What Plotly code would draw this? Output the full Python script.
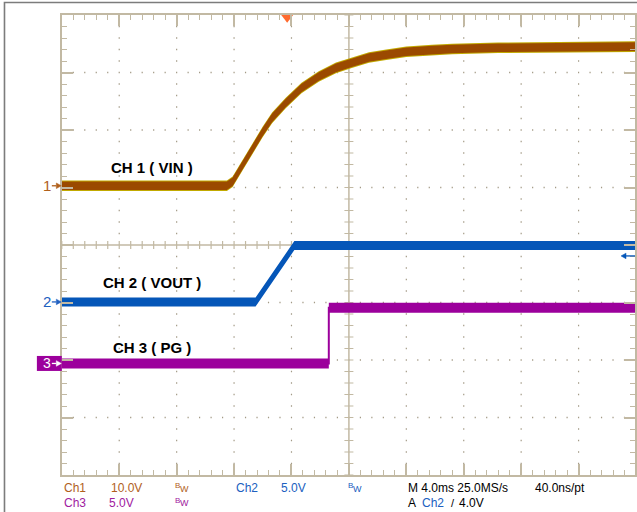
import plotly.graph_objects as go

W, H = 637, 512

# ---------------- scope settings ----------------
time_per_div = 4.0            # ms/div  (M 4.0ms)
ch1_scale = 10.0              # V/div
ch2_scale = 5.0
ch3_scale = 5.0
ch1_ground = 5.03             # ground marker position, divisions from bottom
ch2_ground = 3.01
ch3_ground = 1.94
trigger_time = 15.7           # ms from left graticule edge
trigger_level = 4.0           # V on Ch2

# ---------------- waveform data (ms, V) ----------------
ch1_t = [0.0, 11.5, 11.9, 12.6, 13.3, 14.0, 14.65, 15.6, 16.7, 17.9, 19.1,
         20.2, 21.4, 22.6, 24.0, 25.8, 27.2, 30.4, 34.6, 40.0]
ch1_v = [0.0, 0.0, 0.7, 3.6, 6.6, 9.4, 11.8, 14.4, 17.0, 19.0, 20.5,
         21.4, 22.3, 22.8, 23.3, 23.6, 23.8, 24.0, 24.1, 24.2]

ch2_t = [0.0, 13.5, 16.2, 40.0]
ch2_v = [0.0, 0.0, 4.9, 4.9]

ch3_t = [0.0, 18.6, 18.6, 40.0]
ch3_v = [0.0, 0.0, 4.85, 4.85]

# ---------------- geometry ----------------
x_left_px, div_px_x = 62, 57.6
y_top_px, y_bot_px = 15, 475
x_max = (W - x_left_px) / div_px_x * time_per_div
PX_Y = 8 / (y_bot_px - y_top_px)       # divisions per pixel (vertical)
PX_X = time_per_div / div_px_x         # ms per pixel (horizontal)

GRAT = "#C2B9A3"
DOTC = "#A39A86"
BROWN = "#9B4A00"
YEL = "#C2AA00"
BLUE = "#0556B8"
PURP = "#9C009C"


def to_div(v, ground, scale):
    return [ground + x / scale for x in v]


def band(t, y, half, color, name):
    xs = list(t) + list(t)[::-1]
    ys = [a + half for a in y] + [a - half for a in y][::-1]
    return go.Scatter(x=xs, y=ys, fill="toself", fillcolor=color, mode="lines",
                      line=dict(width=0, color=color), hoverinfo="skip",
                      showlegend=False, name=name)


fig = go.Figure()

y1 = to_div(ch1_v, ch1_ground, ch1_scale)
y2 = to_div(ch2_v, ch2_ground, ch2_scale)
y3 = to_div(ch3_v, ch3_ground, ch3_scale)

# CH1 : yellow speckle edge + brown core
fig.add_trace(band(ch1_t, y1, 5.3 * PX_Y, YEL, "ch1e"))
fig.add_trace(band(ch1_t, y1, 4.3 * PX_Y, BROWN, "ch1"))
fig.add_trace(go.Scatter(x=ch1_t, y=y1, mode="lines", line=dict(color=BROWN, width=3),
                         showlegend=False, hoverinfo="skip"))
# CH2
fig.add_trace(band(ch2_t, y2, 4.5 * PX_Y, BLUE, "ch2"))
fig.add_trace(go.Scatter(x=ch2_t, y=y2, mode="lines", line=dict(color=BLUE, width=3),
                         showlegend=False, hoverinfo="skip"))
# CH3
fig.add_trace(band(ch3_t, y3, 5.0 * PX_Y, PURP, "ch3"))
fig.add_trace(go.Scatter(x=ch3_t, y=y3, mode="lines", line=dict(color=PURP, width=2),
                         showlegend=False, hoverinfo="skip"))

# trigger position marker
fig.add_trace(go.Scatter(x=[trigger_time], y=[8 - 2.3 * PX_Y], mode="markers",
                         marker=dict(symbol="triangle-down", size=11, color="#FF6A2E",
                                     line=dict(width=0)),
                         cliponaxis=False, showlegend=False, hoverinfo="skip"))

# ---------------- graticule dots, centre cross with ticks ----------------
shapes = []
dot_path = ""
for i in range(1, 10):
    if i == 5:
        continue
    for k in range(1, 40):
        if k % 5 == 0:
            continue
        tx = i * time_per_div
        ty = k / 5
        dot_path += f"M{tx - 0.6 * PX_X},{ty} L{tx + 0.6 * PX_X},{ty} "
for j in range(1, 8):
    if j == 4:
        continue
    for k in range(1, 50):
        tx = k * time_per_div / 5
        dot_path += f"M{tx - 0.6 * PX_X},{j} L{tx + 0.6 * PX_X},{j} "
shapes.append(dict(type="path", xref="x", yref="y", path=dot_path,
                   line=dict(color=DOTC, width=1.4), layer="below"))

xc = 5 * time_per_div
shapes.append(dict(type="line", xref="x", yref="y", x0=0, x1=10 * time_per_div, y0=4, y1=4,
                   line=dict(color=GRAT, width=1.5), layer="below"))
shapes.append(dict(type="line", xref="x", yref="y", x0=xc, x1=xc, y0=0, y1=8,
                   line=dict(color=GRAT, width=1.5), layer="below"))
path_h = ""
for k in range(51):
    tx = k * time_per_div / 5
    path_h += f"M{tx},{4 - 4 * PX_Y} L{tx},{4 + 4 * PX_Y} "
path_v = ""
for k in range(41):
    ty = k / 5
    path_v += f"M{xc - 4.5 * PX_X},{ty} L{xc + 4.5 * PX_X},{ty} "
shapes.append(dict(type="path", xref="x", yref="y", path=path_h,
                   line=dict(color=GRAT, width=1.2), layer="below"))
shapes.append(dict(type="path", xref="x", yref="y", path=path_v,
                   line=dict(color=GRAT, width=1.2), layer="below"))

# outer frame
shapes.append(dict(type="rect", xref="paper", yref="paper", x0=4.5 / W, x1=1.05,
                   y0=-0.05, y1=1 - 2.5 / H, line=dict(color="#7C7C7C", width=1.6),
                   fillcolor="rgba(0,0,0,0)"))
# CH3 marker box
shapes.append(dict(type="rect", xref="paper", yref="y", x0=37 / W, x1=62 / W,
                   y0=ch3_ground - 7.5 * PX_Y, y1=ch3_ground + 7.5 * PX_Y,
                   fillcolor=PURP, line=dict(width=0)))


def arrow(x_tail_px, x_head_px, yv, color):
    """Horizontal arrow; x in pixels (paper ref), y in divisions."""
    xt = x_tail_px / W
    xh = x_head_px / W
    sgn = 1 if x_tail_px > x_head_px else -1
    xb = (x_head_px + sgn * 5) / W
    shapes.append(dict(type="line", xref="paper", yref="y", x0=xt, x1=xb, y0=yv, y1=yv,
                       line=dict(color=color, width=1.3)))
    shapes.append(dict(type="path", xref="paper", yref="y",
                       path=(f"M{xh},{yv} L{xb},{yv + 2.8 * PX_Y} L{xb},{yv - 2.8 * PX_Y} Z"),
                       fillcolor=color, line=dict(color=color, width=0.5)))


C1 = "#B0601C"
C2 = "#2060C0"
C3 = "#A020A0"

# ground marker arrows
arrow(52, 61.5, ch1_ground, C1)
arrow(52, 61.5, ch2_ground, C2)
arrow(52, 61.5, ch3_ground, "white")
# trigger level arrow at right edge
arrow(637, 623, ch2_ground + trigger_level / ch2_scale, BLUE)

# ---------------- annotations ----------------
ann = []


def ptext(xp, yp, text, color, size=12, xanchor="left"):
    ann.append(dict(xref="paper", yref="paper", x=xp / W, y=1 - yp / H, text=text,
                    showarrow=False, xanchor=xanchor, yanchor="middle",
                    font=dict(family="Liberation Sans, Arial", size=size, color=color)))


def dtext(xp, yv, text, color, size=14):
    ann.append(dict(xref="paper", yref="y", x=xp / W, y=yv, text=text,
                    showarrow=False, xanchor="center", yanchor="middle",
                    font=dict(family="Liberation Sans, Arial", size=size, color=color)))


# channel labels
ptext(152, 167, "<b>CH 1 ( VIN )</b>", "black", 15, "center")
ptext(152, 282, "<b>CH 2 ( VOUT )</b>", "black", 15, "center")
ptext(152, 347, "<b>CH 3 ( PG )</b>", "black", 15, "center")

# ground marker numbers
dtext(47.5, ch1_ground, "1", C1, 15)
dtext(47.5, ch2_ground, "2", C2, 15)
dtext(47.5, ch3_ground, "3", "white", 14)

# bottom readouts
r1, r2 = 488, 502.5


def bw(xp, yp, color):
    ptext(xp, yp - 2.5, "B", color, 8)
    ptext(xp + 5, yp + 0.5, "W", color, 9)


ptext(62, r1, "Ch1", C1)
ptext(109, r1, "10.0V", C1)
bw(174, r1, C1)
ptext(235, r1, "Ch2", C2)
ptext(280, r1, "5.0V", C2)
bw(347, r1, C2)
ptext(407, r1, "M 4.0ms 25.0MS/s", "black")
ptext(535, r1, "40.0ns/pt", "black")
ptext(62, r2, "Ch3", C3)
ptext(107, r2, "5.0V", C3)
bw(174, r2, C3)
ptext(407, r2, "A", "black")
ptext(421, r2, "Ch2", C2)
ptext(450, r2, "/", "black", 11)
ptext(458, r2, "4.0V", "black")

fig.update_layout(
    width=W, height=H, margin=dict(l=0, r=0, t=0, b=0),
    paper_bgcolor="white", plot_bgcolor="white",
    showlegend=False, shapes=shapes, annotations=ann,
    xaxis=dict(domain=[x_left_px / W, 1], range=[0, x_max], showgrid=False,
               showline=True, linecolor=GRAT, linewidth=2,
               mirror="ticks", ticks="inside", ticklen=11, tickwidth=1.5, tickcolor=GRAT,
               dtick=time_per_div, tick0=0,
               minor=dict(dtick=time_per_div / 5, ticks="inside", ticklen=5,
                          tickcolor=GRAT, tickwidth=1.2, showgrid=False),
               showticklabels=False, zeroline=False, fixedrange=True),
    yaxis=dict(domain=[(H - y_bot_px) / H, (H - y_top_px) / H], range=[0, 8],
               showgrid=False, dtick=1, tick0=0,
               showline=True, linecolor=GRAT, linewidth=2,
               mirror="ticks", ticks="inside", ticklen=11, tickwidth=1.5, tickcolor=GRAT,
               minor=dict(dtick=0.2, ticks="inside", ticklen=5,
                          tickcolor=GRAT, tickwidth=1.2, showgrid=False),
               showticklabels=False, zeroline=False, fixedrange=True),
)

fig.write_html("out.html")
